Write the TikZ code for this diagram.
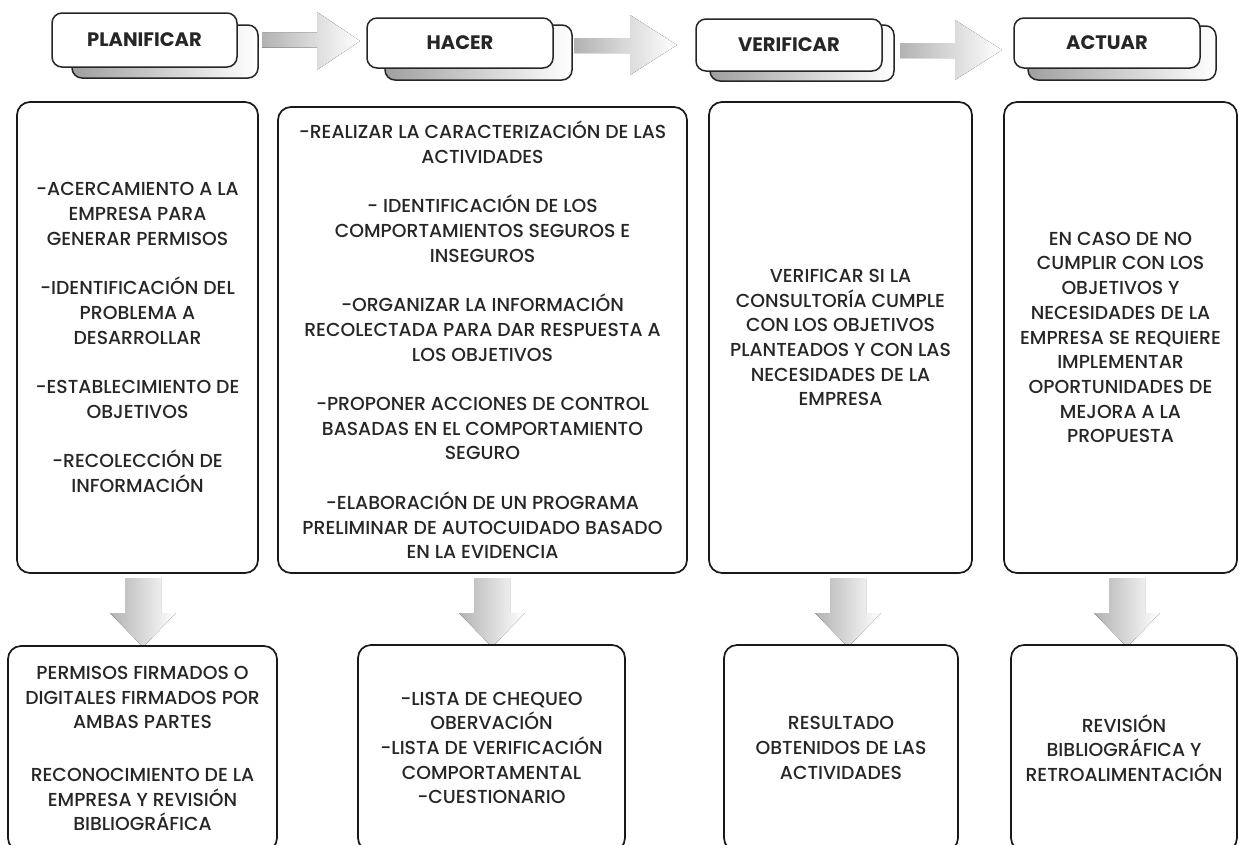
\documentclass[tikz,border=0pt]{standalone}
\usepackage{fontspec}
\setmainfont{Poppins}[UprightFont={* Medium}, BoldFont={* Bold}]
\begin{document}
\begin{tikzpicture}[x=1pt,y=-1pt,
  frontbox/.style={draw=black!85, line width=1.5pt, rounded corners=10pt, fill=white,
     font=\fontsize{19.5}{22}\selectfont\bfseries, text=black!85},
  backbox/.style={draw=black!85, line width=1.5pt, rounded corners=10pt, left color=gray!75, right color=white},
  mainbox/.style={draw=black!90, line width=1.7pt, rounded corners=13pt, fill=white,
     align=center, font=\fontsize{18.8}{24.7}\selectfont, text=black!85},
  blockarrow/.style={left color=gray!60, right color=white, draw=none}
]
\clip (0,0) rectangle (1239,844);
\fill[white] (0,0) rectangle (1239,844);

% ---------- header tabs ----------
\node[backbox, minimum width=186pt, minimum height=53pt] (planb) at (165,51.5) {};
\node[frontbox, minimum width=185pt, minimum height=54pt] (plan) at (144.5,40) {PLANIFICAR};

\node[backbox, minimum width=187pt, minimum height=55pt] (hacb) at (478.5,52.5) {};
\node[frontbox, minimum width=186pt, minimum height=50pt] (hac) at (460,43) {HACER};

\node[backbox, minimum width=184pt, minimum height=56pt] (verb) at (802,53) {};
\node[frontbox, minimum width=186pt, minimum height=52pt] (ver) at (789,45) {VERIFICAR};

\node[backbox, minimum width=188pt, minimum height=54pt] (actb) at (1122,53) {};
\node[frontbox, minimum width=186pt, minimum height=50pt] (act) at (1107,43) {ACTUAR};

% ---------- horizontal block arrows ----------
\fill[blockarrow] (262,32.5) -- (317,32.5) -- (317,12) -- (360,41) -- (317,70) -- (317,47.5) -- (262,47.5) -- cycle;
\fill[blockarrow] (574,38) -- (630,38) -- (630,15) -- (677,45) -- (630,75) -- (630,53) -- (574,53) -- cycle;
\fill[blockarrow] (900,43) -- (955,43) -- (955,20) -- (1002,50) -- (955,80) -- (955,58) -- (900,58) -- cycle;

% ---------- main boxes ----------
\node[mainbox, minimum width=241pt, minimum height=471pt] (m1) at (137.5,337.5) {%
-ACERCAMIENTO A LA\\EMPRESA PARA\\GENERAR PERMISOS\\[24.7pt]%
-IDENTIFICACIÓN DEL\\PROBLEMA A\\DESARROLLAR\\[24.7pt]%
-ESTABLECIMIENTO DE\\OBJETIVOS\\[24.7pt]%
-RECOLECCIÓN DE\\INFORMACIÓN};

\node[mainbox, minimum width=409pt, minimum height=466pt] (m2) at (482.5,340) {%
-REALIZAR LA CARACTERIZACIÓN DE LAS\\ACTIVIDADES\\[24.7pt]%
- IDENTIFICACIÓN DE LOS\\COMPORTAMIENTOS SEGUROS E\\INSEGUROS\\[24.7pt]%
-ORGANIZAR LA INFORMACIÓN\\RECOLECTADA PARA DAR RESPUESTA A\\LOS OBJETIVOS\\[24.7pt]%
-PROPONER ACCIONES DE CONTROL\\BASADAS EN EL COMPORTAMIENTO\\SEGURO\\[24.7pt]%
-ELABORACIÓN DE UN PROGRAMA\\PRELIMINAR DE AUTOCUIDADO BASADO\\EN LA EVIDENCIA};

\node[mainbox, minimum width=263pt, minimum height=471pt] (m3) at (840.5,337.5) {%
VERIFICAR SI LA\\CONSULTORÍA CUMPLE\\CON LOS OBJETIVOS\\PLANTEADOS Y CON LAS\\NECESIDADES DE LA\\EMPRESA};

\node[mainbox, minimum width=233pt, minimum height=471pt] (m4) at (1120.5,337.5) {%
EN CASO DE NO\\CUMPLIR CON LOS\\OBJETIVOS Y\\NECESIDADES DE LA\\EMPRESA SE REQUIERE\\IMPLEMENTAR\\OPORTUNIDADES DE\\MEJORA A LA\\PROPUESTA};

% ---------- down block arrows ----------
\foreach \cx in {143,492,848,1127}{
  \fill[blockarrow] (\cx-18,578) -- (\cx+18,578) -- (\cx+18,613) -- (\cx+33,613) -- (\cx,647) -- (\cx-33,613) -- (\cx-18,613) -- cycle;
}

% ---------- bottom boxes ----------
\node[mainbox, minimum width=269pt, minimum height=205pt] (b1) at (142.5,748.5) {%
PERMISOS FIRMADOS O\\DIGITALES FIRMADOS POR\\AMBAS PARTES\\[28pt]%
RECONOCIMIENTO DE LA\\EMPRESA Y REVISIÓN\\BIBLIOGRÁFICA};

\node[mainbox, minimum width=267pt, minimum height=206pt] (b2) at (491.5,748) {%
-LISTA DE CHEQUEO\\OBERVACIÓN\\-LISTA DE VERIFICACIÓN\\COMPORTAMENTAL\\-CUESTIONARIO};

\node[mainbox, minimum width=234pt, minimum height=206pt] (b3) at (841,748) {%
RESULTADO\\OBTENIDOS DE LAS\\ACTIVIDADES};

\node[mainbox, minimum width=226pt, minimum height=206pt] (b4) at (1124,748) {%
REVISIÓN\\BIBLIOGRÁFICA Y\\RETROALIMENTACIÓN};
\end{tikzpicture}
\end{document}
